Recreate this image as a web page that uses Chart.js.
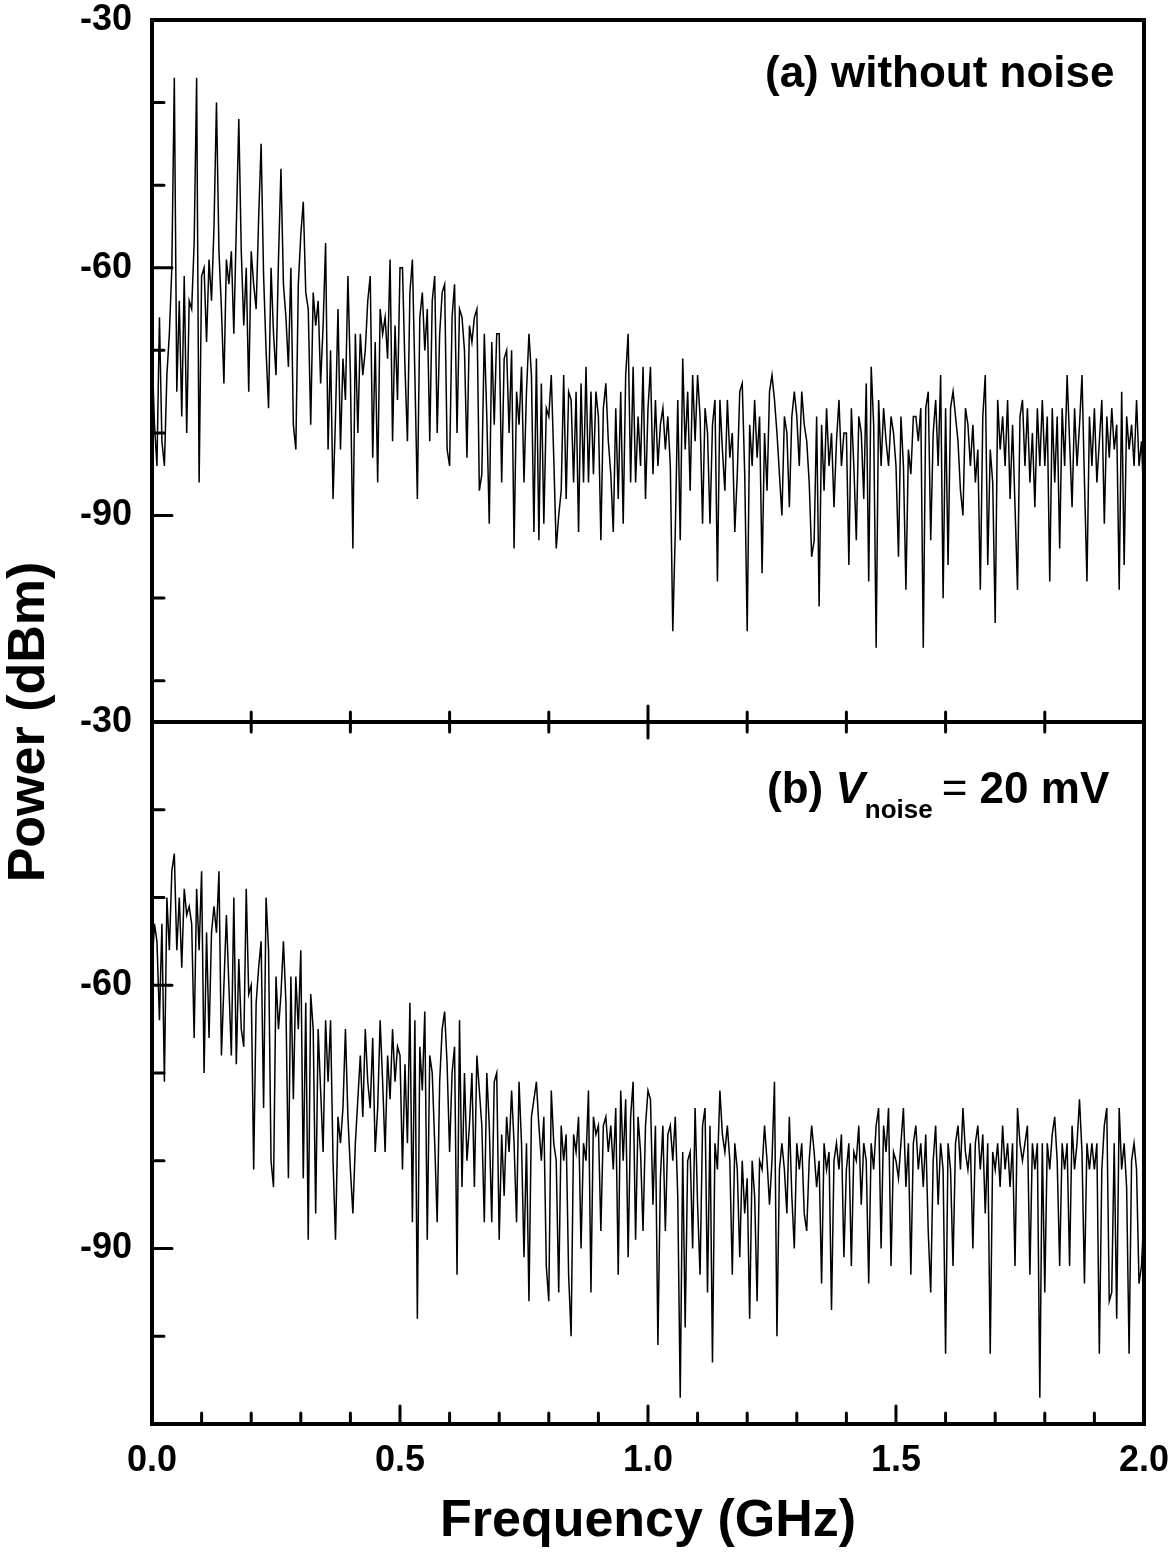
<!DOCTYPE html>
<html><head><meta charset="utf-8">
<script src="https://cdn.jsdelivr.net/npm/chart.js@4/dist/chart.umd.min.js"></script>
<style>
html,body{margin:0;padding:0;background:#fff;}
#wrap{position:relative;width:1175px;height:1553px;overflow:hidden;background:#fff;}
canvas{position:absolute;left:0;}
#cA{top:-18px;}
#cB{top:0;}
.lbl{position:absolute;font-family:"Liberation Sans",Arial,sans-serif;font-weight:bold;color:#000;white-space:nowrap;}
</style></head><body>
<div id="wrap">
<canvas id="cA" width="1175" height="1571"></canvas>
<canvas id="cB" width="1188" height="1553"></canvas>
<div class="lbl" style="left:765px;top:50px;font-size:44px;line-height:44px;">(a) without noise</div>
<div class="lbl" style="left:767px;top:766px;font-size:44px;line-height:44px;">(b) <i>V</i><span style="font-size:26px;position:relative;top:15px;">noise</span><span style="font-weight:normal;margin-left:9px;">=</span> 20 mV</div>
<div class="lbl" style="left:-174px;top:692px;width:400px;height:60px;font-size:52px;line-height:60px;text-align:center;transform:rotate(-90deg);">Power (dBm)</div>
</div>
<script>
// ---- data (frequency grid: 0 to 2 GHz, every 0.005 GHz) ----
const freqStep = 0.005;
// (a) without noise, power in dBm
const powerA = [
-70,-79,-84,-66,-81,-84,-73,-68,-60,-37,-75,-64,-78,-61,-80,-64,-65,-57,-37,-86,
-61,-60,-69,-59,-64,-55,-40,-58,-65,-74,-59,-62,-58,-68,-55,-42,-58,-67,-60,-75,
-58,-62,-65,-54,-45,-61,-70,-77,-60,-68,-73,-59,-48,-62,-66,-72,-60,-79,-82,-62,
-56,-52,-63,-65,-79,-63,-67,-64,-74,-67,-57,-82,-70,-88,-78,-65,-82,-71,-76,-61,
-73,-94,-68,-80,-68,-73,-70,-64,-61,-83,-69,-86,-65,-68,-66,-71,-59,-81,-67,-76,
-60,-60,-72,-81,-63,-59,-73,-88,-66,-63,-70,-65,-81,-64,-61,-80,-68,-63,-62,-82,
-84,-66,-62,-80,-65,-66,-70,-83,-67,-69,-66,-65,-87,-85,-68,-78,-91,-69,-79,-68,
-68,-86,-71,-70,-80,-70,-94,-75,-79,-72,-86,-75,-68,-73,-92,-71,-93,-74,-91,-77,
-78,-73,-83,-94,-90,-87,-73,-88,-75,-76,-86,-75,-92,-74,-86,-72,-86,-75,-85,-75,
-78,-93,-77,-74,-81,-85,-92,-77,-88,-75,-91,-73,-68,-86,-72,-86,-78,-84,-72,-88,
-77,-72,-85,-76,-84,-79,-77,-82,-78,-84,-104,-92,-76,-93,-71,-82,-75,-87,-73,-81,
-73,-78,-91,-77,-80,-91,-79,-76,-98,-76,-82,-87,-76,-83,-80,-92,-85,-75,-74,-85,
-104,-79,-84,-76,-83,-78,-97,-80,-87,-75,-73,-76,-80,-85,-90,-78,-80,-89,-78,-75,
-78,-84,-75,-79,-81,-86,-95,-93,-78,-101,-79,-87,-77,-84,-80,-89,-81,-76,-84,-80,
-80,-96,-77,-84,-93,-78,-80,-88,-74,-98,-72,-79,-106,-76,-84,-77,-81,-84,-78,-80,
-84,-95,-78,-84,-99,-82,-85,-78,-78,-81,-77,-106,-77,-75,-93,-80,-76,-84,-73,-100,
-77,-96,-77,-75,-78,-81,-87,-90,-77,-79,-84,-79,-86,-82,-99,-78,-73,-96,-82,-86,
-103,-76,-82,-78,-84,-76,-88,-79,-89,-99,-78,-76,-84,-77,-86,-80,-89,-77,-84,-76,
-84,-78,-98,-77,-86,-78,-94,-77,-84,-73,-81,-89,-77,-84,-79,-73,-86,-98,-78,-84,
-77,-86,-81,-76,-91,-78,-83,-77,-82,-79,-99,-75,-96,-78,-82,-79,-84,-76,-84,-81,
-89
];
// (b) V_noise = 20 mV, power in dBm
const powerB = [
-58,-53,-55,-64,-53,-71,-50,-56,-47,-45,-56,-50,-58,-49,-52,-51,-53,-66,-49,-56,
-47,-70,-54,-66,-54,-51,-54,-47,-68,-60,-52,-60,-68,-50,-69,-57,-65,-67,-49,-61,
-60,-81,-62,-58,-55,-74,-50,-56,-80,-83,-59,-65,-61,-55,-62,-82,-59,-73,-59,-65,
-56,-82,-62,-89,-61,-65,-86,-65,-72,-79,-64,-71,-64,-80,-89,-75,-78,-74,-65,-75,
-81,-86,-78,-73,-68,-75,-65,-71,-74,-66,-79,-74,-64,-71,-79,-68,-73,-65,-71,-67,
-68,-81,-69,-78,-62,-87,-64,-98,-67,-72,-63,-89,-68,-70,-78,-87,-71,-65,-63,-69,
-79,-70,-67,-93,-64,-83,-70,-80,-76,-70,-83,-68,-72,-76,-87,-70,-76,-87,-71,-70,
-89,-77,-84,-75,-79,-72,-78,-87,-71,-78,-91,-78,-96,-75,-73,-71,-76,-80,-75,-92,
-96,-72,-78,-80,-95,-76,-80,-77,-93,-100,-77,-79,-75,-90,-78,-80,-72,-95,-75,-77,
-76,-88,-76,-75,-79,-76,-81,-74,-93,-72,-80,-73,-91,-75,-71,-89,-75,-79,-88,-76,
-72,-73,-85,-76,-101,-82,-76,-88,-77,-76,-80,-75,-84,-107,-79,-99,-80,-79,-90,-74,
-85,-93,-76,-74,-95,-76,-103,-78,-81,-72,-77,-79,-76,-80,-93,-78,-81,-91,-80,-86,
-82,-98,-80,-84,-96,-80,-81,-76,-80,-85,-80,-71,-100,-81,-78,-81,-86,-75,-84,-90,
-78,-81,-78,-86,-88,-80,-76,-79,-83,-80,-94,-78,-81,-79,-97,-80,-78,-81,-77,-91,
-81,-78,-92,-79,-80,-76,-85,-78,-80,-94,-78,-81,-76,-74,-90,-76,-79,-74,-92,-79,
-80,-82,-78,-74,-83,-78,-93,-78,-76,-81,-78,-83,-77,-88,-95,-80,-76,-85,-78,-81,
-102,-78,-81,-92,-78,-76,-81,-74,-79,-81,-78,-90,-78,-76,-81,-77,-86,-78,-102,-79,
-81,-78,-83,-76,-81,-78,-83,-78,-92,-74,-78,-80,-78,-76,-93,-78,-81,-78,-107,-78,
-95,-78,-81,-77,-75,-80,-92,-78,-81,-78,-92,-76,-81,-78,-73,-79,-94,-78,-81,-78,
-81,-78,-102,-81,-76,-74,-96,-95,-78,-98,-74,-81,-78,-83,-102,-80,-78,-81,-94,-92,
-86
];
// axis ranges and ticks
const xRange = [0, 2];
const yRangeA = [-115, -30];
const yRangeB = [-110, -30];
const xTickValues = [0, 0.5, 1, 1.5, 2];
const xTickLabels = ['0.0', '0.5', '1.0', '1.5', '2.0'];
const xMinorTicks = [0.1,0.2,0.3,0.4,0.6,0.7,0.8,0.9,1.1,1.2,1.3,1.4,1.6,1.7,1.8,1.9];
const xMidTicks = [0.2,0.4,0.6,0.8,1.0,1.2,1.4,1.6,1.8];
const yMajorTicks = [-90, -60, -30];
const yMinorTicks = [-110,-100,-80,-70,-50,-40];
const xTitle = 'Frequency (GHz)';

const freqGHz = powerA.map((_, i) => Math.round(i * freqStep * 1000) / 1000);
const FONT = '"Liberation Sans", Arial, sans-serif';

function framePlugin(isBottom) {
  return {
    id: 'frame' + (isBottom ? 'B' : 'A'),
    afterDraw(chart) {
      const ctx = chart.ctx, a = chart.chartArea;
      const xs = chart.scales.x, ys = chart.scales.y;
      ctx.save();
      ctx.strokeStyle = '#000';
      ctx.lineWidth = 3;
      ctx.lineCap = 'round';
      ctx.beginPath();
      yMinorTicks.forEach(v => {
        if (v > ys.min && v < ys.max) {
          const y = ys.getPixelForValue(v);
          ctx.moveTo(a.left, y); ctx.lineTo(a.left + 12, y);
        }
      });
      yMajorTicks.forEach(v => {
        if (v > ys.min && v < ys.max) {
          const y = ys.getPixelForValue(v);
          ctx.moveTo(a.left, y); ctx.lineTo(a.left + 20, y);
        }
      });
      xMidTicks.forEach(v => {
        const x = xs.getPixelForValue(v);
        const L = (v === 1.0) ? 16 : 10;
        if (isBottom) { ctx.moveTo(x, a.top); ctx.lineTo(x, a.top + L); }
        else { ctx.moveTo(x, a.bottom); ctx.lineTo(x, a.bottom - L); }
      });
      if (isBottom) {
        xMinorTicks.forEach(v => {
          const x = xs.getPixelForValue(v);
          ctx.moveTo(x, a.bottom); ctx.lineTo(x, a.bottom - 11);
        });
        xTickValues.forEach(v => {
          if (v > xs.min && v < xs.max) {
            const x = xs.getPixelForValue(v);
            ctx.moveTo(x, a.bottom); ctx.lineTo(x, a.bottom - 18);
          }
        });
      }
      ctx.stroke();
      ctx.lineCap = 'butt';
      ctx.lineWidth = 4;
      ctx.strokeRect(a.left, a.top, a.right - a.left, a.bottom - a.top);
      ctx.restore();
    }
  };
}

function makeChart(id, values, yRange, isBottom, pad) {
  const pts = values.map((v, i) => ({x: freqGHz[i], y: v}));
  const xScale = {
    type: 'linear', min: xRange[0], max: xRange[1], display: isBottom,
    grid: {display: false, drawTicks: false}, border: {display: false},
    afterBuildTicks: s => { s.ticks = xTickValues.map(v => ({value: v})); },
    ticks: {
      color: '#000', padding: 19, maxRotation: 0, autoSkip: false,
      font: {family: FONT, size: 36, weight: 'bold', lineHeight: 1},
      callback: (v, i) => xTickLabels[i]
    },
    title: {display: true, text: xTitle, color: '#000', padding: {top: 0, bottom: 0},
            font: {family: FONT, size: 52, weight: 'bold', lineHeight: 1.2}}
  };
  if (isBottom) xScale.afterFit = s => { s.height = 129; };
  return new Chart(document.getElementById(id), {
    type: 'line',
    data: {datasets: [{data: pts, borderColor: '#000', borderWidth: 1.5, pointRadius: 0,
                       tension: 0, fill: false}]},
    options: {
      responsive: false, animation: false, devicePixelRatio: 1,
      layout: {padding: pad},
      plugins: {legend: {display: false}, tooltip: {enabled: false}, title: {display: false}},
      scales: {
        x: xScale,
        y: {
          type: 'linear', min: yRange[0], max: yRange[1],
          grid: {display: false, drawTicks: false}, border: {display: false},
          afterBuildTicks: s => { s.ticks = yMajorTicks.map(v => ({value: v})); },
          afterFit: s => { s.width = 152; },
          ticks: {color: '#000', padding: 20,
                  font: {family: FONT, size: 36, weight: 'bold', lineHeight: 1},
                  callback: v => String(v)}
        }
      }
    },
    plugins: [framePlugin(isBottom)]
  });
}

makeChart('cA', powerA, yRangeA, false, {top: 38, right: 31, bottom: 831, left: 0});
makeChart('cB', powerB, yRangeB, true, {top: 722, right: 44, bottom: 0, left: 0});
</script>
</body></html>
